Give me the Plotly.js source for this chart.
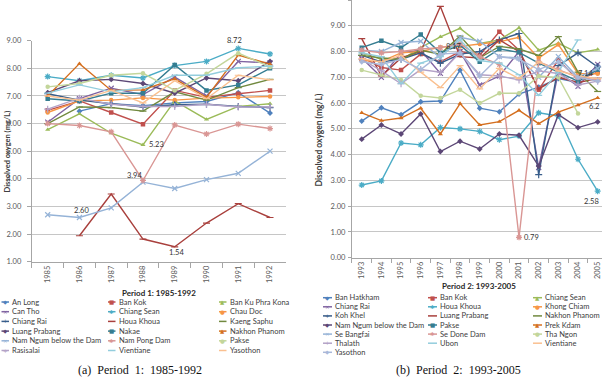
<!DOCTYPE html>
<html><head><meta charset="utf-8">
<script src="https://cdn.plot.ly/plotly-3.0.1.min.js"></script>
<style>html,body{margin:0;padding:0;background:#fff;}#chart{width:602px;height:386px;}</style>
</head><body><div id="chart"></div>
<script>
// ---------- Period 1 data (1985-1992) ----------
const years1 = ['1985','1986','1987','1988','1989','1990','1991','1992'];
const names1 = ['An Long','Ban Kok','Ban Ku Phra Kona','Can Tho','Chiang Sean','Chau Doc','Chiang Rai','Houa Khoua','Kaeng Saphu','Luang Prabang','Nakae','Nakhon Phanom','Nam Ngum below the Dam','Nam Pong Dam','Pakse','Rasisalai','Vientiane','Yasothon'];
const p1_AnLong        = [null, 6.45, 6.72, 6.65, 6.75, 6.80, 7.12, 6.38];
const p1_BanKok        = [6.48, 6.82, 6.40, 5.98, 7.20, 6.95, 7.08, 7.20];
const p1_BanKuPhraKona = [5.78, 6.35, 5.65, 5.23, 6.82, 6.15, 6.62, 6.72];
const p1_CanTho        = [6.05, 6.90, 7.28, 7.05, 7.68, 7.00, 8.25, 8.20];
const p1_ChiangSean    = [7.70, 7.55, 7.75, 7.65, 8.10, 8.25, 8.72, 8.52];
const p1_ChauDoc       = [6.40, 6.82, 6.85, 6.93, 6.85, 6.92, 6.95, 6.98];
const p1_ChiangRai     = [7.08, 6.85, 6.72, 6.60, 6.68, 6.70, 6.62, 6.58];
const p1_HouaKhoua     = [null, 1.94, 3.45, 1.82, 1.54, 2.40, 3.10, 2.60];
const p1_KaengSaphu    = [6.00, 6.60, 6.58, 6.45, 7.15, 6.85, 7.30, 7.60];
const p1_LuangPrabang  = [7.12, 7.55, 7.60, 7.45, 7.10, 7.65, 7.55, 8.25];
const p1_Nakae         = [6.90, 6.82, 7.10, 7.10, 8.12, 7.20, 7.40, 8.00];
const p1_NakhonPhanom  = [7.00, 8.17, 7.20, 7.22, 7.62, 6.95, 8.48, 8.15];
const p1_NamNgum       = [2.70, 2.60, 2.95, 3.88, 3.65, 3.97, 4.20, 5.00];
const p1_NamPongDam    = [6.00, 5.93, 5.70, 3.94, 5.95, 5.62, 5.98, 5.82];
const p1_Pakse         = [7.33, 7.45, 7.75, 7.82, 7.20, 7.80, 8.55, 8.05];
const p1_Rasisalai     = [6.52, 6.92, 6.70, 6.62, 6.62, 6.70, 6.60, 6.60];
const p1_Vientiane     = [7.10, 7.40, 7.15, 7.30, 7.75, 7.75, 8.02, 8.08];
const p1_Yasothon      = [7.00, 6.85, 7.20, 6.75, 7.55, 6.90, 7.75, 7.58];
const series1 = [p1_AnLong,p1_BanKok,p1_BanKuPhraKona,p1_CanTho,p1_ChiangSean,p1_ChauDoc,p1_ChiangRai,p1_HouaKhoua,p1_KaengSaphu,p1_LuangPrabang,p1_Nakae,p1_NakhonPhanom,p1_NamNgum,p1_NamPongDam,p1_Pakse,p1_Rasisalai,p1_Vientiane,p1_Yasothon];

// ---------- Period 2 data (1993-2005) ----------
const years2 = ['1993','1994','1995','1996','1997','1998','1999','2000','2001','2002','2003','2004','2005'];
const names2 = ['Ban Hatkham','Ban Kok','Chiang Sean','Chiang Rai','Houa Khoua','Khong Chiam','Koh Khel','Luang Prabang','Nakhon Phanom','Nam Ngum below the Dam','Pakse','Prek Kdam','Se Bangfai','Se Done Dam','Tha Ngon','Thalath','Ubon','Vientiane','Yasothon'];
const p2_BanHatkham    = [5.30, 5.82, 5.55, 6.05, 6.08, 7.28, 5.80, 5.66, 6.35, 6.62, 6.95, 6.80, 7.45];
const p2_BanKok        = [7.78, 7.38, 7.28, 7.90, 7.60, 8.00, 7.86, 8.77, 8.05, 6.52, 7.68, 6.90, 7.20];
const p2_ChiangSean    = [7.95, 7.70, 7.68, 8.15, 8.57, 8.90, 8.31, 8.45, 8.92, 8.05, 8.32, 7.95, 8.08];
const p2_ChiangRai     = [7.75, 7.00, 7.95, 8.05, 7.15, 8.00, 6.70, 7.05, 8.00, 3.50, 7.20, 6.65, 7.50];
const p2_HouaKhoua     = [2.82, 2.98, 4.45, 4.38, 5.05, 5.00, 4.90, 4.58, 4.72, 5.62, 5.50, 3.82, 2.58];
const p2_KhongChiam    = [7.65, 7.62, 7.95, 8.00, 8.17, 8.20, 8.29, 8.38, 8.55, 7.75, 8.27, 7.15, 7.14];
const p2_KohKhel       = [7.85, 7.60, 7.70, 7.95, 7.55, 7.90, 8.00, 8.45, 8.70, 3.22, 7.45, 7.95, 7.40];
const p2_LuangPrabang  = [8.50, 7.05, 7.75, 8.00, 9.75, 7.80, 7.75, 8.45, 8.00, 6.55, 7.00, 6.80, 6.95];
const p2_NakhonPhanom  = [7.85, 7.75, 7.70, 8.05, 7.90, 8.60, 7.75, 8.20, 8.10, 7.85, 8.58, 7.20, 6.45];
const p2_NamNgum       = [4.60, 5.15, 4.80, 5.58, 4.12, 4.52, 4.22, 4.80, 4.75, 3.55, 5.55, 5.05, 5.27];
const p2_Pakse         = [8.15, 8.42, 8.15, 8.66, 7.95, 8.25, 7.60, 8.10, 7.97, 7.55, 7.20, 6.85, 7.30];
const p2_PrekKdam      = [5.62, 5.32, 5.42, 5.80, 4.80, 5.98, 5.15, 5.28, 5.72, 5.20, 5.65, 5.92, 6.20];
const p2_SeBangfai     = [8.05, 8.00, 8.35, 8.40, 7.75, 8.55, 8.40, 7.80, 7.75, 7.00, 7.80, 7.00, 7.35];
const p2_SeDoneDam     = [8.05, 7.95, 8.00, 8.10, 8.15, 8.30, 7.80, 7.50, 0.79, 7.60, 7.30, 7.00, 6.90];
const p2_ThaNgon       = [7.28, 7.10, 6.90, 6.28, 6.20, 6.52, 6.00, 6.38, 6.38, 7.05, 7.00, 5.60, null];
const p2_Thalath       = [7.70, 7.25, 6.75, 7.30, 7.20, 7.95, 7.10, 7.05, 6.90, 7.25, 7.15, 6.70, 6.85];
const p2_Ubon          = [7.95, 7.80, 6.75, 7.55, 7.80, 8.45, 7.65, 7.55, 7.10, 6.30, 7.20, 8.45, null];
const p2_Vientiane     = [7.72, 7.60, 7.85, 7.20, 6.60, 7.45, 6.55, 7.35, 6.95, 7.60, 7.25, 7.05, 6.95];
const p2_Yasothon      = [7.60, 7.50, 7.70, 7.30, 7.90, 7.95, 7.05, 7.80, 7.70, 7.30, 7.60, 7.00, 6.85];
const series2 = [p2_BanHatkham,p2_BanKok,p2_ChiangSean,p2_ChiangRai,p2_HouaKhoua,p2_KhongChiam,p2_KohKhel,p2_LuangPrabang,p2_NakhonPhanom,p2_NamNgum,p2_Pakse,p2_PrekKdam,p2_SeBangfai,p2_SeDoneDam,p2_ThaNgon,p2_Thalath,p2_Ubon,p2_Vientiane,p2_Yasothon];

// data labels: series index, point index
const labels1 = [[4,6],[2,3],[13,3],[12,1],[7,4]];
const labels2 = [[5,4],[5,12],[11,12],[4,12],[13,8]];

// ---------- styles ----------
const palette = ['#4F81BD','#C0504D','#9BBB59','#8064A2','#4BACC6','#F79646',
                 '#385D8A','#A9403D','#71893F','#5C4776','#357D91','#D46F1F',
                 '#95B3D7','#D99694','#C3D69B','#B3A2C7','#93CDDD','#FAC090','#A9B8D9'];
const symbols = ['diamond','square','triangle-up','x-thin-open','asterisk-open','circle','cross-thin-open','line-ew-open','line-ew-open'];
const glyphs  = ['◆','■','▲','×','✱','●','+','',''];
const label1Style = [{xs:-4,ys:8,xa:'center'},{xs:4,ys:0,xa:'left'},{xs:-8,ys:5,xa:'center'},{xs:2,ys:7,xa:'center'},{xs:2,ys:-6,xa:'center'}];
const label2Style = [{xs:4,ys:1,xa:'left'},{xs:-3,ys:0,xa:'right'},{xs:3,ys:-9,xa:'right'},{xs:3,ys:-10,xa:'right'},{xs:3,ys:0,xa:'left'}];

const FONT = 'Lato, "DejaVu Sans", sans-serif';
const px = v => v/602, py = v => 1 - v/386;

const traces = [];
function addSeries(series, years, xa, ya){
  series.forEach((vals,i)=>{
    const c = palette[i % palette.length];
    const sym = symbols[i % 9];
    const thin = sym.indexOf('open')>=0;
    traces.push({
      x: years, y: vals, xaxis: xa, yaxis: ya, type:'scatter', mode:'lines+markers',
      line:{color:c, width:1.4}, hoverinfo:'skip', showlegend:false,
      marker:{symbol:sym, size: thin?5:4.5, color:c, line:{color:c, width: thin?1.2:0}}
    });
  });
}
addSeries(series1, years1, 'x', 'y');
addSeries(series2, years2, 'x2', 'y2');

const annotations = [];
const shapes = [];
// data labels (category axes: x given as category serial number)
labels1.forEach(([s,p],k)=>{
  const st = label1Style[k];
  annotations.push({xref:'x',yref:'y',x:p,y:series1[s][p],text:series1[s][p].toFixed(2),
    showarrow:false,xshift:st.xs,yshift:st.ys,xanchor:st.xa,yanchor:'middle',font:{family:FONT,size:7.5,color:'#333'}});
});
labels2.forEach(([s,p],k)=>{
  const st = label2Style[k];
  annotations.push({xref:'x2',yref:'y2',x:p,y:series2[s][p],text:String(series2[s][p]),
    showarrow:false,xshift:st.xs,yshift:st.ys,xanchor:st.xa,yanchor:'middle',font:{family:FONT,size:7.5,color:'#333'}});
});
// legends
function addLegend(names, colX, y0, dy, swW){
  names.forEach((n,i)=>{
    const col = i%3, row = Math.floor(i/3);
    const x = colX[col], y = y0 + row*dy;
    const c = palette[i % palette.length];
    shapes.push({type:'line',xref:'paper',yref:'paper',x0:px(x),x1:px(x+swW),y0:py(y),y1:py(y),line:{color:c,width:1.5}});
    const g = glyphs[i%9];
    if(g) annotations.push({xref:'paper',yref:'paper',x:px(x+swW/2),y:py(y),text:g,showarrow:false,
      xanchor:'center',yanchor:'middle',font:{family:'DejaVu Sans',size:5.5,color:c}});
    annotations.push({xref:'paper',yref:'paper',x:px(x+swW+1),y:py(y),text:n,showarrow:false,
      xanchor:'left',yanchor:'middle',font:{family:FONT,size:7.5,color:'#404040'}});
  });
}
addLegend(names1,[1.5,108,219],302,9.7,7.5);
addLegend(names2,[323,428,533],297.7,9.1,9);

// titles
annotations.push({xref:'paper',yref:'paper',x:px(159),y:py(292.5),text:'<b>Period 1: 1985-1992</b>',showarrow:false,xanchor:'center',yanchor:'middle',font:{family:FONT,size:8,color:'#262626'}});
annotations.push({xref:'paper',yref:'paper',x:px(479),y:py(285.7),text:'<b>Period 2: 1993-2005</b>',showarrow:false,xanchor:'center',yanchor:'middle',font:{family:FONT,size:8,color:'#262626'}});
annotations.push({xref:'paper',yref:'paper',x:px(139.5),y:py(370),text:'(a)  Period  1:  1985-1992',showarrow:false,xanchor:'center',yanchor:'middle',font:{family:'"Liberation Serif", serif',size:12,color:'#111'}});
annotations.push({xref:'paper',yref:'paper',x:px(458.5),y:py(370),text:'(b)  Period  2:  1993-2005',showarrow:false,xanchor:'center',yanchor:'middle',font:{family:'"Liberation Serif", serif',size:12,color:'#111'}});
annotations.push({xref:'paper',yref:'paper',x:px(0),y:py(152),text:'<b>Dissolved oxygen (mg/L)</b>',textangle:-90,showarrow:false,xanchor:'left',yanchor:'middle',font:{family:FONT,size:7.5,color:'#404040'}});
annotations.push({xref:'paper',yref:'paper',x:px(318.5),y:py(140),text:'<b>Dissolved oxygen (mg/L)</b>',textangle:-90,showarrow:false,xanchor:'center',yanchor:'middle',font:{family:FONT,size:8.5,color:'#404040'}});

const tickFont = {family:FONT,size:7.5,color:'#595959'};
const gridC = '#c6c6c6', lineC = '#a6a6a6';
const layout = {
  width:602, height:386, margin:{l:0,r:0,t:0,b:0}, paper_bgcolor:'#fff', plot_bgcolor:'#fff',
  showlegend:false, font:{family:FONT},
  xaxis:{domain:[px(31.8),px(285.9)],anchor:'y',type:'category',range:[-0.5,7.5],tickangle:-90,tickfont:tickFont,
    ticks:'outside',tickson:'boundaries',ticklen:5,tickcolor:lineC,showline:true,linecolor:lineC,showgrid:false,fixedrange:true},
  yaxis:{domain:[1-261.7/386,1-40.7/386],anchor:'x',range:[1,9],dtick:1,tickformat:'.2f',tickfont:tickFont,
    showgrid:true,gridcolor:gridC,showline:true,linecolor:lineC,ticks:'outside',ticklen:4,tickcolor:lineC,zeroline:false,ticklabelstandoff:4,fixedrange:true},
  xaxis2:{domain:[px(351.9),1],anchor:'y2',type:'category',range:[-0.5,12.22],tickangle:-90,tickfont:tickFont,
    ticks:'outside',tickson:'boundaries',ticklen:4,tickcolor:lineC,showline:true,linecolor:lineC,showgrid:false,fixedrange:true},
  yaxis2:{domain:[1-257.7/386,1],anchor:'x2',range:[0,10],dtick:1,tickformat:'.2f',tickfont:tickFont,
    showgrid:true,gridcolor:gridC,showline:true,linecolor:lineC,ticks:'outside',ticklen:3,tickcolor:lineC,zeroline:false,ticklabelstandoff:1,fixedrange:true},
  annotations, shapes
};
Plotly.newPlot('chart', traces, layout, {staticPlot:true, displayModeBar:false});
</script></body></html>
